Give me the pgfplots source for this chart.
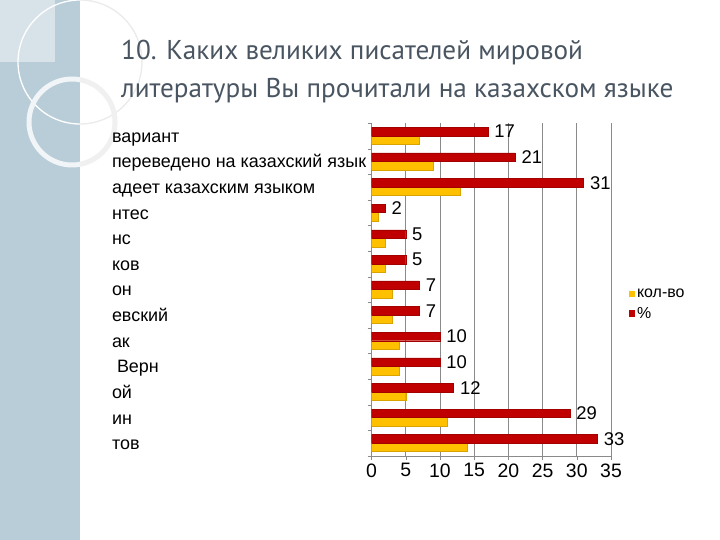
\documentclass[border=0pt]{standalone}
\usepackage{pgfplots}
\pgfplotsset{compat=1.18}
\usetikzlibrary{backgrounds}
\usepackage{fontspec}
\setmainfont{Liberation Sans}
\newfontfamily\titlefont{PT Sans}
\definecolor{band}{HTML}{B8CDD7}
\definecolor{barred}{HTML}{C00000}
\definecolor{baryel}{HTML}{FFC000}
\definecolor{titlecol}{HTML}{4A5562}
\definecolor{gridc}{HTML}{8A8A8A}
\begin{document}
\begin{tikzpicture}
\begin{axis}[
  name=ax, at={(0,0)}, anchor=south west, scale only axis,
  width=239.5bp, height=333bp,
  xmin=0, xmax=35, ymin=-0.5, ymax=12.5,
  xbar, bar width=8.5bp,
  axis lines*=left, axis line style={draw=gridc, -},
  xtick={0,5,...,35}, xmajorgrids, grid style={draw=gridc, line width=0.8bp},
  ytick={-0.5,0.5,...,12.5}, y tick label as interval,
  yticklabels={тов,ин,ой,\hspace{5bp}Верн,ак,евский,он,ков,нс,нтес,адеет казахским языком,переведено на казахский язык,вариант},
  tick align=outside, major tick length=4bp, tick style={draw=gridc},
  /pgf/number format/assume math mode=true,
  yticklabel style={font=\fontsize{18}{18}\selectfont, anchor=base west, xshift=-259bp, yshift=-6.5bp},
  xticklabel style={font=\fontsize{19.5}{19.5}\selectfont},
  legend style={at={(1.06,0.455)}, anchor=west, draw=none, fill=none,
    font=\fontsize{16}{19}\selectfont, legend cell align=left, row sep=4bp},
  legend image code/.code={\fill[#1,draw=none] (0bp,-3bp) rectangle (6.5bp,3.5bp);},
]
\addplot[fill=baryel, draw=baryel!85!black, bar shift=-4.25bp] coordinates {
(14,0) (11,1) (5,2) (4,3) (4,4) (3,5) (3,6) (2,7) (2,8) (1,9) (13,10) (9,11) (7,12)};
\addplot[fill=barred, draw=barred!85!black, bar shift=4.25bp, point meta=x,
  nodes near coords, nodes near coords style={font=\fontsize{18.5}{18.5}\selectfont, anchor=west, xshift=3bp, text=black}] coordinates {
(33,0) (29,1) (12,2) (10,3) (10,4) (7,5) (7,6) (5,7) (5,8) (2,9) (31,10) (21,11) (17,12)};
\legend{кол-во,\%}
\end{axis}
\begin{scope}[on background layer, shift={(ax.south west)}, xshift=-371.5bp, yshift=-84bp, x=1bp, y=1bp]
\fill[white] (0,0) rectangle (720,540);
\fill[band] (0,0) rectangle (80,540);
\fill[band!55!white] (0,478) rectangle (55,540);
\begin{scope}
\clip (0,0) rectangle (80,540);
\draw[white, line width=1.3bp] (80,478) circle (62);
\draw[white!80!band, line width=5bp] (72,418) circle (43);
\end{scope}
\begin{scope}
\clip (80,0) rectangle (200,540);
\draw[black!8, line width=1.3bp] (80,478) circle (62);
\draw[black!6, line width=5bp] (72,418) circle (43);
\end{scope}
\node[anchor=west, font=\titlefont\fontsize{27.3}{38}\selectfont, text=titlecol, align=left, inner sep=0pt] at (121,468) {10. Каких великих писателей мировой\\литературы Вы прочитали на казахском языке};
\end{scope}
\pgfresetboundingbox
\path[use as bounding box, shift={(ax.south west)}, xshift=-371.5bp, yshift=-84bp, x=1bp, y=1bp] (0,0) rectangle (720,540);
\end{tikzpicture}
\end{document}
